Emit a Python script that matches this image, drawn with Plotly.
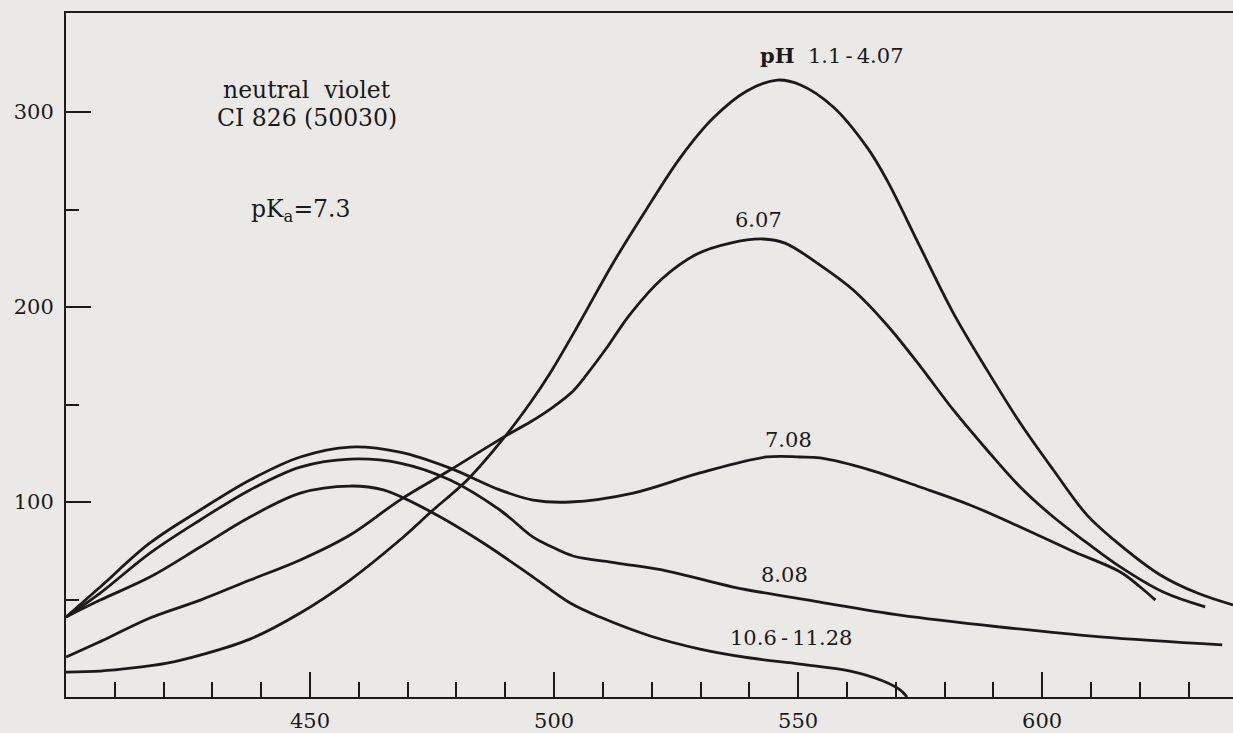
import plotly.graph_objects as go

# wavelength (nm) / absorbance-like values
acid_x = [400, 407, 413.7, 420.7, 427.5, 437.7, 448, 458.2, 468.4, 475.2, 482.2, 490, 495.1,
          499.2, 505.3, 512.1, 519.1, 525.8, 532.6, 539.5, 545.7, 550.4, 557.2, 564.1,
          568.2, 575, 581.8, 588.7, 595.5, 602.3, 609.2, 616, 624.2, 631.8, 639.1]
acid_y = [12.8, 13.3, 14.9, 17.4, 21.5, 29.7, 43.1, 60, 80.5, 95.9, 111.3, 133.8, 150.8,
          166.2, 192.3, 222.6, 250.8, 276.4, 296.9, 310.8, 316.4, 314, 302.6, 282,
          265.1, 230.8, 196.9, 167.7, 140.5, 116.4, 93.3, 77.9, 62.6, 53.3, 47.2]

ph607_x = [400, 408.6, 417.2, 427.5, 437.7, 448, 458.2, 468.4, 478.7, 490, 495.1, 499.8,
           503.9, 507.4, 510.9, 515.6, 522.3, 529.3, 536.1, 542.8, 547.3, 554.5, 561.3,
           568.2, 575, 581.8, 588.7, 595.5, 602.3, 609.2, 616, 624.8, 633.4]
ph607_y = [20.5, 30.3, 40.5, 49.7, 60, 70.3, 83.1, 101, 116.4, 133.8, 141, 148.7,
           156.9, 167.7, 179.5, 196.4, 214.9, 227.2, 232.8, 234.9, 232.8, 221.5, 208.7,
           190.8, 169.7, 147.2, 126.7, 107.7, 92.3, 79, 66.7, 53.8, 46.2]

ph708_x = [400, 407, 417.2, 427.5, 437.7, 448, 458.2, 468.4, 478.7, 488.9, 495.7, 503.3,
           516.2, 529.9, 543.6, 550.4, 554.5, 564.8, 575, 585.2, 595.5, 605.7, 616,
           620.1, 623.2]
ph708_y = [41, 56.4, 79, 95.9, 111.3, 123.1, 128.2, 125.6, 117.4, 106.2, 101, 100,
           104.6, 114.9, 123.1, 123.1, 122.6, 116.4, 107.7, 98.5, 87.2, 75.4, 64.1,
           56.4, 49.7]

ph808_x = [400, 407, 417.2, 427.5, 437.7, 448, 458.2, 468.4, 478.7, 488.9, 495.7, 499.2,
           503.9, 512.9, 523.2, 536.7, 554.5, 570.9, 591.4, 611.9, 636.9]
ph808_y = [41, 53.3, 73.8, 90.8, 106.2, 117.9, 122, 120, 111.3, 95.9, 82, 77.4,
           72.3, 68.7, 64.6, 56.4, 48.7, 42, 35.9, 30.8, 26.7]

ph106_x = [400, 407, 417.2, 427.5, 437.7, 448, 458.2, 465, 475.2, 485.5, 495.7, 503.3,
           509.4, 519.7, 529.9, 540.2, 550.4, 560.7, 567.4, 570.9, 572.3]
ph106_y = [41, 49.7, 61.5, 76.9, 92.3, 104.6, 108.2, 106.2, 94.4, 79, 61.5, 48.2,
           41, 31.3, 24.6, 20, 16.9, 13.3, 8.2, 3.6, 0]

x_major = [450, 500, 550, 600]
x_labels = ["450", "500", "550", "600"]
y_major = [100, 200, 300]
y_labels = ["100", "200", "300"]
y_minor = [50, 150, 250]

INK = "#1a1a1a"
BG = "#ebe9e5"
FONT = "DejaVu Serif"

fig = go.Figure()
for xs, ys in [(acid_x, acid_y), (ph607_x, ph607_y), (ph708_x, ph708_y),
               (ph808_x, ph808_y), (ph106_x, ph106_y)]:
    fig.add_trace(go.Scatter(x=xs, y=ys, mode="lines",
                             line=dict(color=INK, width=2.8, shape="spline", smoothing=1.0),
                             showlegend=False, hoverinfo="skip"))

ann = [
    (449.4, 311.3, "neutral\u00a0\u00a0violet", 23.5),
    (449.4, 296.9, "CI 826 (50030)", 23.5),
    (448.2, 249.7, "pK<sub>a</sub>=7.3", 23.5),
    (557.0, 329.2, "<b>pH</b>\u00a0\u00a01.1\u2009-\u20094.07", 21),
    (541.8, 244.6, "6.07", 21),
    (548.0, 131.8, "7.08", 21),
    (547.3, 62.6, "8.08", 21),
    (548.6, 30.3, "10.6\u2009-\u200911.28", 21),
]
for ax_, ay_, t, s in ann:
    fig.add_annotation(x=ax_, y=ay_, text=t, showarrow=False, xref="x", yref="y",
                       font=dict(family=FONT, size=s, color=INK))

fig.update_layout(
    width=1233, height=733,
    margin=dict(l=66, r=0, t=13, b=36, autoexpand=False),
    paper_bgcolor=BG, plot_bgcolor=BG,
    font=dict(family=FONT, size=21, color=INK),
)
fig.update_xaxes(
    range=[400, 639.1], showgrid=False, zeroline=False, automargin=False,
    showline=True, linecolor=INK, linewidth=2, mirror=True,
    ticks="inside", ticklen=25, tickwidth=2, tickcolor=INK,
    tickmode="array", tickvals=x_major, ticktext=x_labels,
    minor=dict(ticks="inside", ticklen=15, tickwidth=2, tickcolor=INK,
               tickmode="linear", tick0=400, dtick=10, showgrid=False),
    ticklabelstandoff=4,
    tickfont=dict(family=FONT, size=21, color=INK),
)
fig.update_yaxes(
    range=[0, 350.8], showgrid=False, zeroline=False, automargin=False,
    showline=True, linecolor=INK, linewidth=2,
    ticks="inside", ticklen=25, tickwidth=2, tickcolor=INK,
    tickmode="array", tickvals=y_major, ticktext=y_labels,
    minor=dict(ticks="inside", ticklen=13, tickwidth=2, tickcolor=INK,
               tickmode="array", tickvals=y_minor, showgrid=False),
    ticklabelstandoff=6,
    tickfont=dict(family=FONT, size=21, color=INK),
)

fig.write_html("out.html", config={"displayModeBar": False},
               post_script="document.body.style.margin='0';document.body.style.overflow='hidden';")
